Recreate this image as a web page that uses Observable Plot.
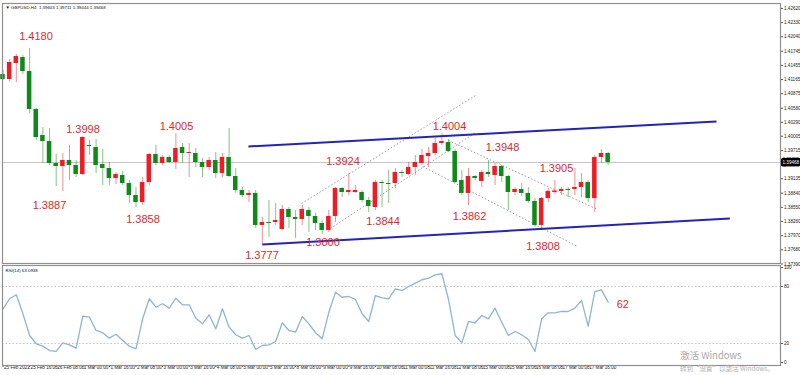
<!DOCTYPE html>
<html>
<head>
<meta charset="utf-8">
<script src="https://cdn.jsdelivr.net/npm/d3@7"></script>
<script src="https://cdn.jsdelivr.net/npm/@observablehq/plot@0.6"></script>
<style>
  body { margin: 0; background: #fff; }
  #wrap { position: relative; width: 800px; height: 375px; overflow: hidden; background: #fff;
          font-family: Arial, "Liberation Sans", sans-serif; }
  #main { position: absolute; left: 0; top: 0; }
  #rsi { position: absolute; left: 0; top: 265px; }
  .wm1 { position: absolute; left: 680px; top: 350px; font-size: 9.5px; line-height: 10px; color: #a8a8a8;
         font-family: "Noto Sans CJK SC", "Noto Sans", sans-serif; white-space: nowrap; }
  .wm2 { position: absolute; left: 680px; top: 365px; font-size: 6.5px; line-height: 7px; color: #b0b0b0;
         font-family: "Noto Sans CJK SC", "Noto Sans", sans-serif; white-space: nowrap; }
</style>
</head>
<body>
<div id="wrap">
  <div id="main"></div>
  <div id="rsi"></div>
  <div class="wm1">激活 Windows</div>
  <div class="wm2">转到“设置”以激活 Windows。</div>
</div>
<script>
// ---------- data (H4 candles, GBPUSD) ----------
const opens = [1.41268,1.41166,1.41493,1.41616,1.41329,1.40552,1.40020,1.39897,1.39447,1.39386,
1.39509,1.39406,1.39222,1.39816,1.39775,1.39427,1.39345,1.39140,1.39202,1.39038,
1.38793,1.38649,1.39059,1.39631,1.39447,1.39570,1.39468,1.39775,1.39652,1.39652,
1.39468,1.39366,1.39509,1.39243,1.39570,1.39181,1.38895,1.38793,1.38834,1.38179,
1.38240,1.38240,1.38097,1.38506,1.38343,1.38302,1.38486,1.38363,1.38220,1.38077,
1.38363,1.38936,1.38854,1.38854,1.38854,1.38690,1.38547,1.39059,1.39038,1.39038,
1.39263,1.39222,1.39366,1.39447,1.39590,1.39652,1.39856,1.39877,1.39693,1.39100,
1.38834,1.39181,1.39079,1.39263,1.39202,1.39386,1.39181,1.38854,1.38915,1.38834,
1.38670,1.38179,1.38731,1.38854,1.38874,1.38915,1.38915,1.38956,1.39059,1.38731,
1.39570,1.39652];
const highs = [1.41350,1.41575,1.41677,1.41657,1.41800,1.40573,1.40184,1.40163,1.39631,1.39652,
1.39816,1.39509,1.40000,1.39918,1.39938,1.39734,1.39468,1.39263,1.39284,1.39100,
1.38956,1.39161,1.39652,1.39816,1.39611,1.39611,1.40061,1.39856,1.39856,1.39754,
1.39550,1.39570,1.39672,1.39652,1.40163,1.39345,1.38956,1.38895,1.38895,1.38343,
1.38690,1.38629,1.38588,1.38547,1.38486,1.38588,1.38547,1.38425,1.38281,1.38486,
1.38956,1.38956,1.39243,1.38997,1.38895,1.38752,1.39100,1.39100,1.39304,1.39345,
1.39304,1.39468,1.39611,1.39734,1.39775,1.39959,1.40061,1.39938,1.39734,1.39304,
1.39345,1.39202,1.39304,1.39509,1.39447,1.39406,1.39202,1.38956,1.39038,1.38956,
1.38731,1.38752,1.38936,1.39100,1.38956,1.38956,1.39345,1.39243,1.39100,1.39611,
1.39734,1.39672];
const lows = [1.41146,1.41125,1.41105,1.41268,1.40470,1.39918,1.39447,1.39406,1.38977,1.38874,
1.39100,1.39161,1.39202,1.39611,1.39243,1.38997,1.38997,1.39018,1.38997,1.38629,
1.38547,1.38588,1.38997,1.39406,1.39406,1.39447,1.39325,1.39447,1.39161,1.39366,
1.39161,1.39304,1.39140,1.39161,1.39161,1.38834,1.38752,1.38649,1.38118,1.37770,
1.37933,1.38179,1.38077,1.38118,1.37913,1.38179,1.38036,1.38077,1.37995,1.38036,
1.38240,1.38752,1.38793,1.38834,1.38649,1.38445,1.38486,1.38547,1.38629,1.38936,
1.39161,1.39202,1.39202,1.39406,1.39366,1.39611,1.39816,1.39672,1.39038,1.38793,
1.38588,1.39100,1.38956,1.39161,1.38997,1.39059,1.38486,1.38793,1.38772,1.38629,
1.38138,1.38077,1.38649,1.38813,1.38793,1.38752,1.38793,1.38752,1.38649,1.38445,
1.39447,1.39406];
const closes = [1.41166,1.41514,1.41636,1.41329,1.40552,1.39979,1.39897,1.39447,1.39386,1.39509,
1.39406,1.39222,1.39979,1.39795,1.39406,1.39345,1.39140,1.39222,1.39038,1.38793,
1.38649,1.39059,1.39631,1.39447,1.39570,1.39468,1.39754,1.39652,1.39672,1.39468,
1.39366,1.39509,1.39243,1.39570,1.39181,1.38895,1.38793,1.38834,1.38179,1.38240,
1.38220,1.38281,1.38506,1.38343,1.38302,1.38506,1.38363,1.38220,1.38077,1.38363,
1.38936,1.38854,1.38895,1.38895,1.38690,1.38568,1.39059,1.39038,1.39018,1.39263,
1.39243,1.39366,1.39468,1.39611,1.39652,1.39856,1.39897,1.39693,1.39059,1.38834,
1.39181,1.39140,1.39263,1.39222,1.39386,1.39181,1.38854,1.38915,1.38834,1.38670,
1.38179,1.38731,1.38874,1.38884,1.38915,1.38895,1.38956,1.39059,1.38731,1.39570,
1.39652,1.39468];

// RSI(14)
const rsiValues = [56.5,67.1,71.3,51.3,28.4,19.7,17.2,12.6,11.6,20.7,
18.6,15.1,48.7,47.7,33.7,31.3,25.6,29.8,23.2,17.2,
14.4,46.0,67.1,58.2,61.8,57.2,67.7,60.7,60.7,46.6,
40.7,50.2,35.5,56.5,37.2,29.2,25.6,28.4,13.7,17.9,
18.6,22.1,41.8,33.7,31.9,48.4,40.7,31.3,24.9,52.9,
74.0,68.7,69.5,66.3,51.3,43.2,70.5,68.1,67.1,77.6,
75.8,80.0,83.5,87.1,88.7,92.3,93.4,66.3,28.4,20.7,
43.2,41.8,49.5,46.0,57.2,42.4,28.4,32.6,29.2,24.2,
11.6,46.0,52.3,52.3,53.7,53.7,57.2,65.3,38.2,74.7,
76.5,63.5];
const rsiLevels = [20, 80];
const rsiTicks = [0, 20, 80, 100];

// price axis ticks (the one hidden behind the price box is left out)
const priceTicks = [1.37390,1.37680,1.37970,1.38260,1.38550,1.38840,1.39135,1.39715,1.40005,
1.40290,1.40580,1.40875,1.41165,1.41455,1.41745,1.42040,1.42330,1.42620];
const lastPrice = 1.39468;
const headerText = "▼ GBPUSD,H4  1.39603 1.39711 1.39444 1.39468";
const rsiHeader = "RSI(14) 63.0938";

// time axis (bar index of each label)
const dateBars = [0,4,8,12,16,20,24,28,32,36,40,44,48,52,56,60,64,68,72,76,80,84,88];
const dateLabels = ["25 Feb 2021","25 Feb 16:00","26 Feb 08:00","1 Mar 00:00","1 Mar 16:00","2 Mar 08:00",
"3 Mar 00:00","3 Mar 16:00","4 Mar 08:00","5 Mar 00:00","5 Mar 16:00","8 Mar 08:00","9 Mar 00:00",
"9 Mar 16:00","10 Mar 08:00","11 Mar 00:00","11 Mar 16:00","12 Mar 08:00","15 Mar 00:00","15 Mar 16:00",
"16 Mar 08:00","17 Mar 00:00","17 Mar 16:00"];

// annotations (bar index, price)
const noteText  = ["1.4180","1.3998","1.4005","1.3887","1.3858","1.3777","1.3924","1.3800","1.3844","1.4004","1.3948","1.3862","1.3905","1.3808"];
const noteBar   = [4.96,12.03,26.09,6.99,21.05,38.95,51.13,48.12,57.14,67.14,75.11,70.15,83.23,81.20];
const notePrice = [1.42045,1.40143,1.40214,1.38588,1.38312,1.37565,1.39488,1.37841,1.38251,1.40214,1.39785,1.38373,1.39355,1.37749];

// trend channel (solid blue) : start bar, start price, end bar, end price
const chanX1 = [36.9, 39.0], chanP1 = [1.39795, 1.37790], chanX2 = [107.3, 109.3], chanP2 = [1.40307, 1.38322];
// dotted channels
const dotX1 = [44.9, 49.25, 67.0, 63.1], dotP1 = [1.38629, 1.38118, 1.39918, 1.39386];
const dotX2 = [71.05, 71.05, 89.4, 86.4], dotP2 = [1.40838, 1.40081, 1.38506, 1.37749];

// RSI note
const rsiNoteText = ["62"], rsiNoteBar = [93.2], rsiNoteValue = [61.1];

// ---------- build ----------
const UP = "#ee1c24", DOWN = "#0d8a17", NOTE = "#dd2a2f", BLUE = "#2424b6";
const candles = opens.map((o, i) => ({i, o, h: highs[i], l: lows[i], c: closes[i]}));
const notes = noteText.map((t, k) => ({t, x: noteBar[k], y: notePrice[k]}));
const chans = chanX1.map((x, k) => ({x1: x, y1: chanP1[k], x2: chanX2[k], y2: chanP2[k]}));
const dots = dotX1.map((x, k) => ({x1: x, y1: dotP1[k], x2: dotX2[k], y2: dotP2[k]}));
const xDomain = [-0.075, 116.92];
const font = "Arial, 'Liberation Sans', sans-serif";

const main = Plot.plot({
  width: 800, height: 265,
  marginTop: 3, marginBottom: 2, marginLeft: 2, marginRight: 20,
  x: {domain: xDomain, axis: null},
  y: {domain: [1.37401, 1.42721]},
  color: {type: "identity"},
  style: {background: "transparent", fontFamily: font, overflow: "visible"},
  marks: [
    Plot.ruleY([lastPrice], {stroke: "#c6c6c6", strokeWidth: 1}),
    Plot.link(dots, {x1: "x1", y1: "y1", x2: "x2", y2: "y2", stroke: "#9d9d9d", strokeWidth: 1, strokeDasharray: "1.5,2"}),
    Plot.ruleX(candles, {x: "i", y1: "l", y2: "h", stroke: d => d.c >= d.o ? UP : DOWN, strokeOpacity: 0.5, strokeWidth: 1}),
    Plot.rect(candles, {x1: d => d.i - 0.34, x2: d => d.i + 0.34, y1: "o", y2: "c", fill: d => d.c >= d.o ? UP : DOWN}),
    Plot.link(chans, {x1: "x1", y1: "y1", x2: "x2", y2: "y2", stroke: BLUE, strokeWidth: 2}),
    Plot.text(notes, {x: "x", y: "y", text: "t", fill: NOTE, fontSize: 11, textAnchor: "middle"}),
    Plot.axisY({anchor: "right", ticks: priceTicks, tickFormat: d => d.toFixed(5), fontSize: 4.6, tickSize: 2, tickPadding: 1.5, fill: "#222", stroke: "#555"}),
    Plot.text([lastPrice], {x: xDomain[1], y: d => d, text: d => d.toFixed(5), textAnchor: "start", dx: 2, fill: "#fff", stroke: "#000", strokeWidth: 5, fontSize: 4.6}),
    Plot.text([headerText], {frameAnchor: "top-left", text: d => d, textAnchor: "start", lineAnchor: "top", dx: 3, dy: 2, fontSize: 4.4, fill: "#111"}),
    Plot.frame({stroke: "#8f8f8f", strokeWidth: 1.2})
  ]
});
document.getElementById("main").appendChild(main);

const rsiChart = Plot.plot({
  width: 800, height: 110,
  marginTop: 0, marginBottom: 10, marginLeft: 2, marginRight: 20,
  x: {domain: xDomain},
  y: {domain: [-3.16, 102.1]},
  style: {background: "transparent", fontFamily: font, overflow: "visible"},
  marks: [
    Plot.ruleY(rsiLevels, {stroke: "#c4c4c4", strokeDasharray: "1.5,2"}),
    Plot.line(rsiValues, {x: (d, i) => i, y: d => d, stroke: "#8fb5d3", strokeWidth: 1.3}),
    Plot.text(rsiNoteText, {x: (d, k) => rsiNoteBar[k], y: (d, k) => rsiNoteValue[k], text: d => d, fill: NOTE, fontSize: 11}),
    Plot.axisY({anchor: "right", ticks: rsiTicks, fontSize: 4.6, tickSize: 2, tickPadding: 1.5, fill: "#222", stroke: "#555"}),
    Plot.axisX({anchor: "bottom", ticks: dateBars, tickFormat: () => "", tickSize: 2, stroke: "#666", label: null}),
    Plot.text(dateBars, {x: d => d, text: (d, k) => dateLabels[k], frameAnchor: "bottom", textAnchor: "start", dx: 1, dy: 3.5, fontSize: 4.6, fill: "#222"}),
    Plot.text([rsiHeader], {frameAnchor: "top-left", text: d => d, textAnchor: "start", lineAnchor: "top", dx: 3, dy: 3, fontSize: 4.4, fill: "#111"}),
    Plot.frame({stroke: "#8f8f8f", strokeWidth: 1.2})
  ]
});
document.getElementById("rsi").appendChild(rsiChart);
</script>
</body>
</html>
